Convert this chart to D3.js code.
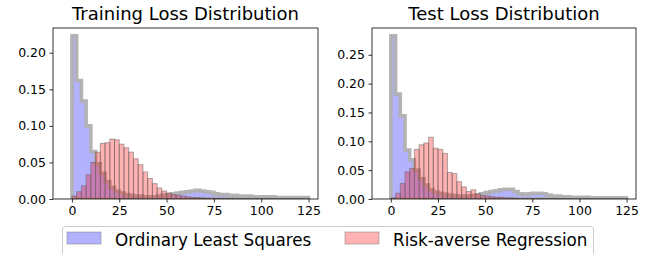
<!doctype html>
<html lang='en'>
<head>
    <meta charset='UTF-8'>
    <title>Loss Distribution</title>
    <style>
        body,html{
            margin: 0;
            padding: 0;
            background: #fff;
            font-family: 'DejaVu Sans', sans-serif;
        }
        .axis text{
            font-size: 12.5px;
            fill: #000;
        }
        .axis path,
        .axis line{
            stroke: #000;
            stroke-width: 0.8;
        }
        .title{
            font-size: 18px;
            text-anchor: middle;
        }
        .legend-label{
            font-size: 16.8px;
        }
    </style>
</head>
<body>
<script src='https://d3js.org/d3.v7.min.js'></script>
<script>
  // histogram bins: width 2.5, starting at 0
  const binWidth = 2.5
  const seriesNames = ['Ordinary Least Squares', 'Risk-averse Regression']
  const titles = ['Training Loss Distribution', 'Test Loss Distribution']

  const trainOLS = [0.223, 0.162, 0.134, 0.100, 0.065, 0.048, 0.035, 0.024, 0.016, 0.011,
    0.008, 0.006, 0.005, 0.004, 0.004, 0.003, 0.003, 0.003, 0.004, 0.005,
    0.006, 0.007, 0.008, 0.009, 0.010, 0.011, 0.012, 0.011, 0.010, 0.009,
    0.007, 0.006, 0.006, 0.005, 0.005, 0.004, 0.004, 0.004, 0.003, 0.003,
    0.003, 0.003, 0.003, 0.002, 0.002, 0.002, 0.002, 0.002, 0.002, 0.002]
  const trainRisk = [0.004, 0.010, 0.018, 0.033, 0.050, 0.064, 0.076, 0.077, 0.082, 0.081,
    0.075, 0.070, 0.064, 0.055, 0.047, 0.037, 0.028, 0.021, 0.015, 0.011,
    0.008, 0.006, 0.005, 0.004, 0.003, 0.002, 0.002, 0.0015, 0.001, 0.001,
    0.001, 0.001, 0.0008, 0.0008, 0.0006, 0.0006, 0.0005, 0.0005, 0.0004, 0.0004,
    0.0004, 0.0003, 0.0003, 0.0003, 0.0003, 0.0002, 0.0002, 0.0002, 0.0002, 0.0002]
  const testOLS = [0.283, 0.182, 0.144, 0.085, 0.068, 0.050, 0.035, 0.024, 0.016, 0.012,
    0.010, 0.008, 0.007, 0.006, 0.005, 0.005, 0.005, 0.006, 0.007, 0.009,
    0.011, 0.013, 0.014, 0.016, 0.017, 0.017, 0.013, 0.009, 0.008, 0.009,
    0.010, 0.010, 0.009, 0.007, 0.005, 0.005, 0.004, 0.004, 0.003, 0.003,
    0.003, 0.003, 0.002, 0.002, 0.002, 0.002, 0.002, 0.002, 0.002, 0.002]
  const testRisk = [0.002, 0.010, 0.027, 0.047, 0.053, 0.086, 0.094, 0.097, 0.107, 0.088,
    0.086, 0.079, 0.046, 0.044, 0.030, 0.021, 0.013, 0.016, 0.009, 0.006,
    0.005, 0.004, 0.003, 0.003, 0.002, 0.002, 0.0015, 0.001, 0.001, 0.001,
    0.0008, 0.0008, 0.0006, 0.0006, 0.0005, 0.0005, 0.0004, 0.0004, 0.0004, 0.0003,
    0.0003, 0.0003, 0.0003, 0.0002, 0.0002, 0.0002, 0.0002, 0.0002, 0.0002, 0.0002]

  const xTicks = [0, 25, 50, 75, 100, 125]
  const yTicksTrain = [0, 0.05, 0.10, 0.15, 0.20]
  const yTicksTest = [0, 0.05, 0.10, 0.15, 0.20, 0.25]

  const w = 657
  const h = 254
  const plotTop = 28
  const plotBottom = 199

  const svg = d3.select('body').append('svg')
    .attr('width', w)
    .attr('height', h)

  const panels = [
    {id: 'train', left: 53, right: 318, ymax: 0.2338, ols: trainOLS, risk: trainRisk, yTicks: yTicksTrain, title: titles[0]},
    {id: 'test', left: 372, right: 636, ymax: 0.2964, ols: testOLS, risk: testRisk, yTicks: yTicksTest, title: titles[1]}
  ]

  function drawPanel(p){
    const x = d3.scaleLinear().domain([-10, 130]).range([p.left, p.right])
    const y = d3.scaleLinear().domain([0, p.ymax]).range([plotBottom, plotTop])

    const g = svg.append('g')

    svg.append('clipPath')
      .attr('id', 'clip-' + p.id)
      .append('rect')
      .attr('x', p.left)
      .attr('y', plotTop)
      .attr('width', p.right - p.left)
      .attr('height', plotBottom - plotTop)

    const plot = g.append('g').attr('clip-path', `url(#clip-${p.id})`)

    // OLS as a filled step histogram with a thick gray edge
    const steps = p.ols.map((v, i) => [i * binWidth, v])
    steps.push([p.ols.length * binWidth, p.ols[p.ols.length - 1]])
    const area = d3.area()
      .curve(d3.curveStepAfter)
      .x(d => x(d[0]))
      .y0(y(0))
      .y1(d => y(d[1]))

    plot.append('path')
      .datum(steps)
      .attr('d', d => area(d) + 'Z')
      .attr('fill', '#0000ff')
      .attr('fill-opacity', 0.3)
      .attr('stroke', '#b0b0b0')
      .attr('stroke-opacity', 0.95)
      .attr('stroke-width', 3.6)
      .attr('stroke-linejoin', 'miter')

    // Risk-averse as separate bars
    plot.selectAll('.risk-bar')
      .data(p.risk)
      .enter()
      .append('rect')
      .classed('risk-bar', true)
      .attr('x', (d, i) => x(i * binWidth))
      .attr('y', d => y(d))
      .attr('width', x(binWidth) - x(0))
      .attr('height', d => y(0) - y(d))
      .attr('fill', '#ff0000')
      .attr('fill-opacity', 0.3)
      .attr('stroke', '#606060')
      .attr('stroke-opacity', 0.5)
      .attr('stroke-width', 1)

    // axes
    g.append('g')
      .classed('axis', true)
      .attr('transform', `translate(0, ${plotBottom})`)
      .call(d3.axisBottom(x).tickValues(xTicks).tickSize(3.5).tickPadding(3.5).tickSizeOuter(0))
      .call(a => a.select('.domain').remove())

    g.append('g')
      .classed('axis', true)
      .attr('transform', `translate(${p.left}, 0)`)
      .call(d3.axisLeft(y).tickValues(p.yTicks).tickFormat(d3.format('.2f')).tickSize(3.5).tickPadding(3.5).tickSizeOuter(0))
      .call(a => a.select('.domain').remove())

    g.selectAll('.axis text').attr('font-family', 'DejaVu Sans')

    // frame
    g.append('rect')
      .attr('x', p.left)
      .attr('y', plotTop)
      .attr('width', p.right - p.left)
      .attr('height', plotBottom - plotTop)
      .attr('fill', 'none')
      .attr('stroke', '#000')
      .attr('stroke-width', 0.8)

    g.append('text')
      .classed('title', true)
      .attr('x', (p.left + p.right) / 2)
      .attr('y', 20)
      .text(p.title)
  }

  panels.forEach(drawPanel)

  // legend
  const legend = svg.append('g')
  legend.append('rect')
    .attr('x', 62.5)
    .attr('y', 226.5)
    .attr('width', 531)
    .attr('height', 40)
    .attr('rx', 3)
    .attr('fill', '#fff')
    .attr('stroke', '#cccccc')
    .attr('stroke-width', 1)

  const legendItems = [
    {name: seriesNames[0], color: '#0000ff', x: 67},
    {name: seriesNames[1], color: '#ff0000', x: 345}
  ]
  legendItems.forEach(item => {
    legend.append('rect')
      .attr('x', item.x)
      .attr('y', 232)
      .attr('width', 34)
      .attr('height', 12)
      .attr('fill', item.color)
      .attr('fill-opacity', 0.3)
      .attr('stroke', '#808080')
      .attr('stroke-opacity', 0.5)
      .attr('stroke-width', 1)
    legend.append('text')
      .classed('legend-label', true)
      .attr('x', item.x + 48)
      .attr('y', 245.5)
      .text(item.name)
  })
</script>
</body>
</html>
